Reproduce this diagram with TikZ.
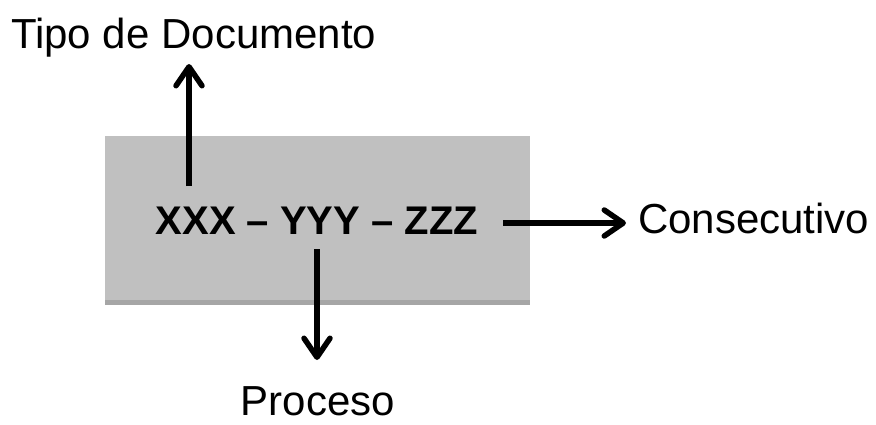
\documentclass[tikz,border=0pt]{standalone}
\usepackage{fontspec}
\setmainfont{Liberation Sans}
\usetikzlibrary{arrows.meta}
\begin{document}
\begin{tikzpicture}[x=1pt,y=-1pt,
  lbl/.style={inner sep=0pt,font=\fontsize{42}{50}\selectfont},
  codetxt/.style={inner sep=0pt,font=\fontsize{40}{48}\selectfont\bfseries},
  arr/.style={line width=5.5pt,-{Straight Barb[length=19pt,width=26pt,line cap=round,line join=round]}}]
\useasboundingbox (0,0) rectangle (876,424);
% box
\fill[fill={rgb,255:red,192;green,192;blue,192}] (105,136) rectangle (530,305);
\fill[fill={rgb,255:red,166;green,166;blue,166}] (105,300) rectangle (530,305);
\node[draw=none,minimum width=425pt,minimum height=169pt,inner sep=0pt] (box) at (317.5,220.5) {};
% texts
\node[codetxt,anchor=base] (code) at (317,234) {XXX – YYY – ZZZ};
\node[lbl,anchor=base west] (tipo) at (11,48) {Tipo de Documento};
\node[lbl,anchor=base west] (cons) at (638,233) {Consecutivo};
\node[lbl,anchor=base] (proc) at (318,415) {Proceso};
% connector endpoints
\coordinate (upS) at (189,186);
\coordinate (upE) at (189,64);
\coordinate (rS) at (503,223);
\coordinate (rE) at (626,223);
\coordinate (dS) at (317,249);
\coordinate (dE) at (317,360);
\draw[arr] (upS) -- (upE);
\draw[arr] (rS) -- (rE);
\draw[arr] (dS) -- (dE);
\end{tikzpicture}
\end{document}
